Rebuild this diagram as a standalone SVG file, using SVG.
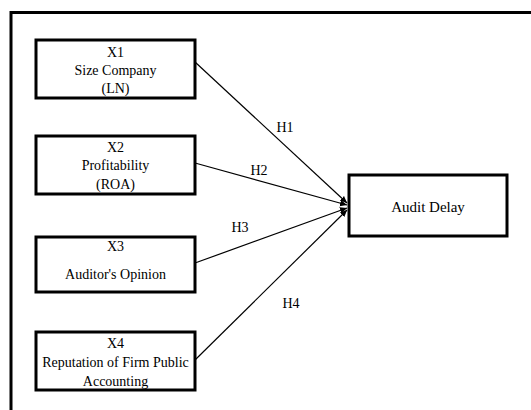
<svg xmlns="http://www.w3.org/2000/svg" width="531" height="410" viewBox="0 0 531 410">
<style>
.box{fill:#fff;stroke:#000;stroke-width:3}
.t{font-family:"Liberation Serif","Times New Roman",serif;font-size:14px;fill:#000;text-anchor:middle}
.edge{stroke:#000;stroke-width:1.2;fill:none;marker-end:url(#ah)}
</style>
<defs>
<marker id="ah" markerWidth="8" markerHeight="8" refX="7" refY="4" orient="auto" markerUnits="userSpaceOnUse">
<path d="M0,0.8 L7,4 L0,7.2 Z" fill="#000"/>
</marker>
</defs>
<rect width="531" height="410" fill="#fff"/>
<g id="frame">
<path d="M11,410 V12.5 H531" fill="none" stroke="#000" stroke-width="3"/>
</g>
<g id="connectors">
<line class="edge" x1="195" y1="62" x2="347" y2="203"/>
<line class="edge" x1="195" y1="163" x2="347" y2="205"/>
<line class="edge" x1="195" y1="263" x2="347" y2="208"/>
<line class="edge" x1="195" y1="360" x2="347" y2="210"/>
<text class="t" x="285" y="132">H1</text>
<text class="t" x="259" y="175">H2</text>
<text class="t" x="240" y="232">H3</text>
<text class="t" x="291" y="308">H4</text>
</g>
<g id="x1">
<rect class="box" x="36" y="40" width="159" height="58"/>
<text class="t" x="115.5" y="57">X1</text>
<text class="t" x="115.5" y="75">Size Company</text>
<text class="t" x="115.5" y="93">(LN)</text>
</g>
<g id="x2">
<rect class="box" x="36" y="136" width="159" height="58"/>
<text class="t" x="115.5" y="152">X2</text>
<text class="t" x="115.5" y="170">Profitability</text>
<text class="t" x="115.5" y="189">(ROA)</text>
</g>
<g id="x3">
<rect class="box" x="36" y="237" width="159" height="55"/>
<text class="t" x="115.5" y="251">X3</text>
<text class="t" x="115.5" y="279">Auditor's Opinion</text>
</g>
<g id="x4">
<rect class="box" x="36" y="332" width="159" height="58"/>
<text class="t" x="115.5" y="348">X4</text>
<text class="t" x="115.5" y="367">Reputation of Firm Public</text>
<text class="t" x="115.5" y="386">Accounting</text>
</g>
<g id="y">
<rect class="box" x="349" y="175" width="158" height="61"/>
<text class="t" x="428" y="212" style="font-size:15px">Audit Delay</text>
</g>
</svg>
